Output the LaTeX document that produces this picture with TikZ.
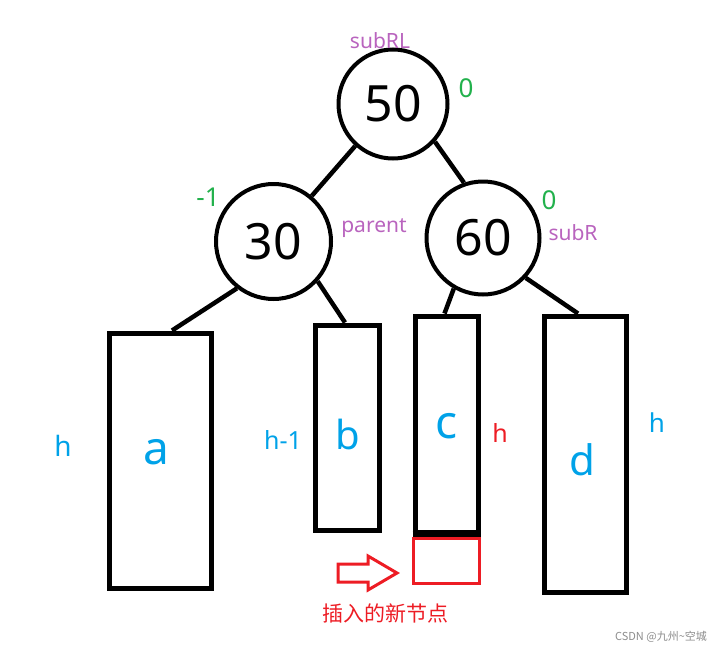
\documentclass[tikz,border=0pt]{standalone}
\usepackage{fontspec}
\setmainfont{Noto Sans}
\newfontfamily\cjk{Noto Sans CJK SC}
\usetikzlibrary{calc}
\definecolor{tblue}{RGB}{0,162,232}
\definecolor{tred}{RGB}{237,28,36}
\definecolor{tgreen}{RGB}{34,177,76}
\definecolor{tpurple}{RGB}{185,100,190}
\begin{document}
\begin{tikzpicture}[x=1pt,y=-1pt,
  treenode/.style={circle,draw=black,line width=4pt,inner sep=0pt,font=\fontsize{50}{58}\selectfont},
  subtree/.style={rectangle,draw=black,line width=5pt,inner sep=0pt},
  edge/.style={line width=4.5pt,black},
  bal/.style={text=tgreen,font=\fontsize{26}{30}\selectfont},
  tag/.style={text=tpurple,font=\fontsize{21}{25}\selectfont},
  hlab/.style={text=tblue,font=\fontsize{28}{32}\selectfont},
  letter/.style={text=tblue,font=\fontsize{46}{52}\selectfont}]
\useasboundingbox (0,0) rectangle (722,653);
% tree nodes
\node[treenode,minimum size=109pt] (n50) at (393,104) {50};
\node[treenode,minimum size=115pt] (n30) at (273.5,241.5) {30};
\node[treenode,minimum size=113pt] (n60) at (483,238) {60};
% subtrees
\node[subtree,minimum width=102pt,minimum height=255pt] (a) at (160,460.5) {};
\node[subtree,minimum width=64pt,minimum height=205pt] (b) at (347,427.5) {};
\node[subtree,minimum width=63pt,minimum height=216pt] (c) at (446.5,424) {};
\node[subtree,minimum width=82pt,minimum height=276pt] (d) at (585,454) {};
\draw[line width=6.5pt] (c.south west) -- (c.south east);
% edges
\draw[edge] (n50.228) -- (n30.50);
\draw[edge] (n50.318) -- (n60.109);
\draw[edge] (n30.232) -- ($(a.north)+(12,0)$);
\draw[edge] (n30.318) -- ($(b.north)+(-2,0)$);
\draw[edge] (n60.240) -- ($(c.north)+(-2,0)$);
\draw[edge] (n60.317) -- ($(d.north)+(-7,0)$);
% letters
\node[letter] (la) at (156,452) {a};
\node[letter,font=\fontsize{40}{46}\selectfont] (lb) at (348,434) {b};
\node[letter] (lc) at (447,426) {c};
\node[letter,font=\fontsize{42}{48}\selectfont] (ld) at (582,460) {d};
% heights
\node[hlab] (ha) at (63,446) {h};
\node[hlab,font=\fontsize{25}{30}\selectfont] (hb) at (283,440) {h-1};
\node[hlab,text=tred,font=\fontsize{25}{30}\selectfont] (hc) at (500,433) {h};
\node[hlab,font=\fontsize{26}{30}\selectfont] (hd) at (657,423) {h};
% balance factors and tags
\node[bal] (b50) at (466,88) {0};
\node[bal] (b30) at (208,197) {-1};
\node[bal] (b60) at (549,200) {0};
\node[tag] (t50) at (380,41) {subRL};
\node[tag] (t30) at (374,228) {parent};
\node[tag] (t60) at (573,233) {subR};
% inserted node
\node[rectangle,draw=tred,line width=3pt,minimum width=66pt,minimum height=45pt,inner sep=0pt] (new) at (446,560.5) {};
\draw[tred,line width=3pt,line join=miter]
  (338,564) -- (368,564) -- (368,556) -- (397,573) -- (368,590) -- (368,582) -- (338,582) -- cycle;
\node[text=tred,font=\cjk\fontsize{21}{25}\selectfont] (cap) at (385,613) {插入的新节点};
\node[text=black!45,font=\cjk\fontsize{11}{13}\selectfont] (wm) at (661,637) {CSDN @九州\textasciitilde 空城};
\end{tikzpicture}
\end{document}
